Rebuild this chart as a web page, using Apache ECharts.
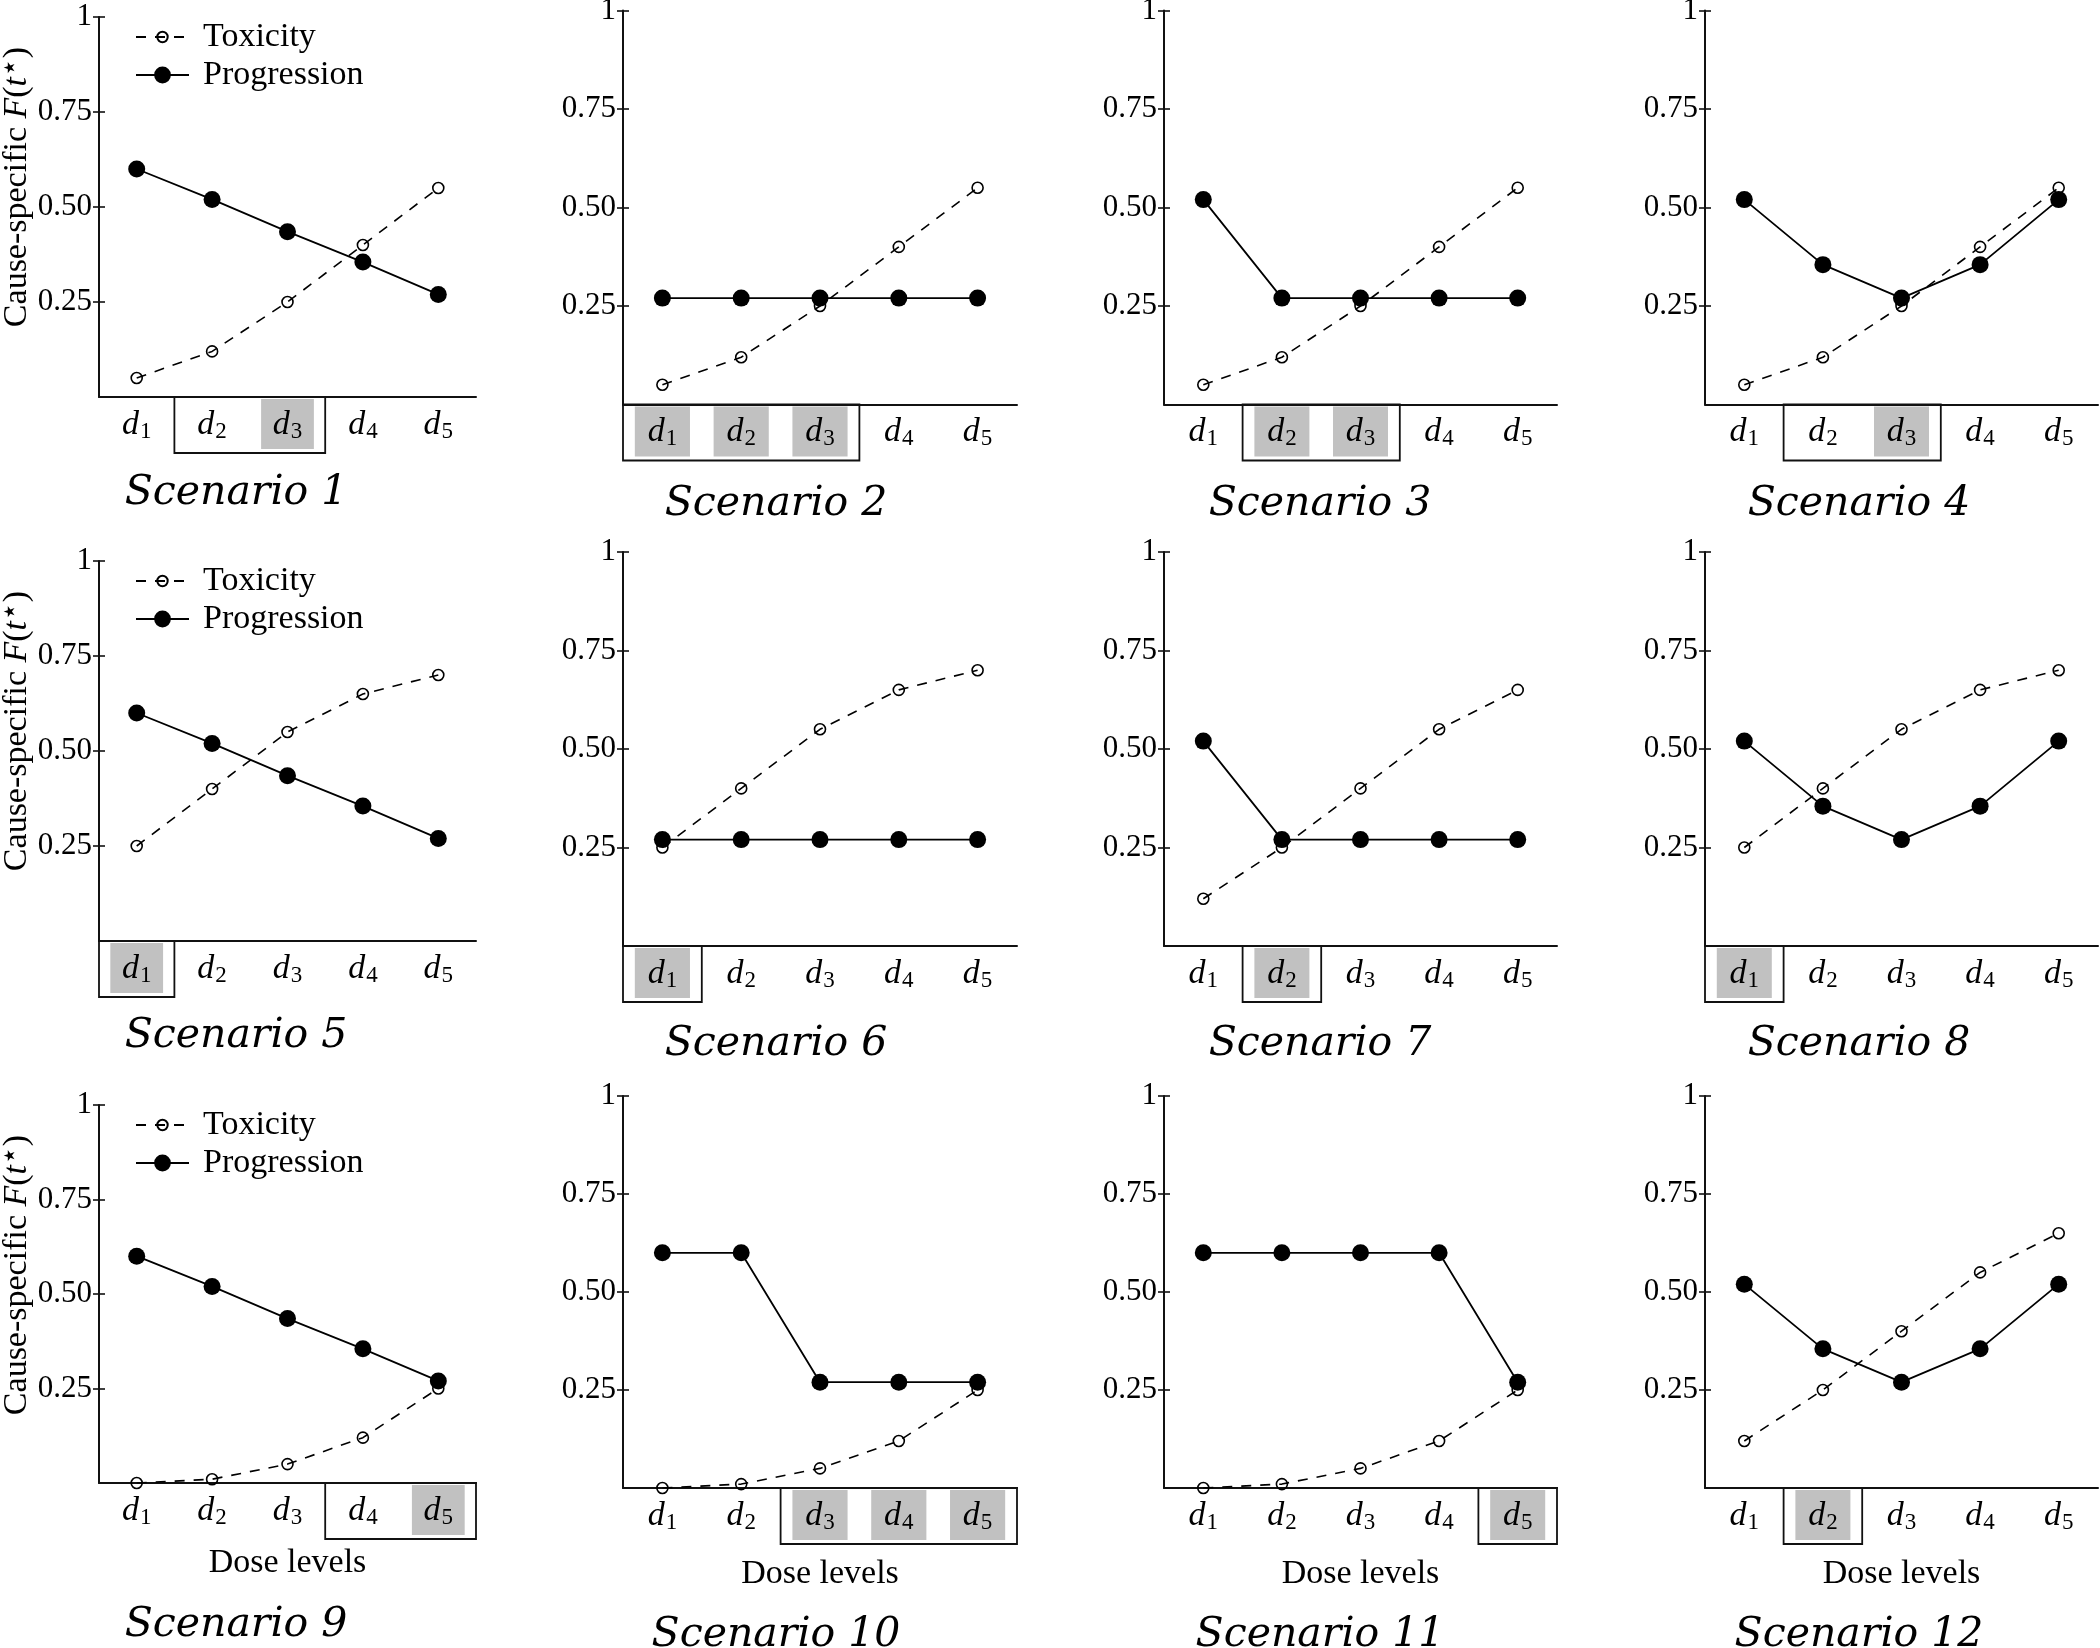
<!DOCTYPE html>
<html>
<head>
<meta charset="utf-8">
<script src="https://cdn.jsdelivr.net/npm/echarts@6/dist/echarts.min.js"></script>
<style>
html,body{margin:0;padding:0;background:#ffffff;}
#c{width:2100px;height:1648px;}
</style>
</head>
<body>
<div id="c"></div>
<script>
// ---------------- data ----------------
const doseLevels = ['d1', 'd2', 'd3', 'd4', 'd5'];
const doseSubscripts = ['1', '2', '3', '4', '5'];
const yTickValues = [0.25, 0.5, 0.75, 1];
const legendNames = ['Toxicity', 'Progression'];
const xAxisTitle = 'Dose levels';
const scenarioLabels = ['Scenario 1', 'Scenario 2', 'Scenario 3', 'Scenario 4',
  'Scenario 5', 'Scenario 6', 'Scenario 7', 'Scenario 8',
  'Scenario 9', 'Scenario 10', 'Scenario 11', 'Scenario 12'];

const tox1 = [0.05, 0.12, 0.25, 0.40, 0.55];
const tox2 = [0.05, 0.12, 0.25, 0.40, 0.55];
const tox3 = [0.05, 0.12, 0.25, 0.40, 0.55];
const tox4 = [0.05, 0.12, 0.25, 0.40, 0.55];
const tox5 = [0.25, 0.40, 0.55, 0.65, 0.70];
const tox6 = [0.25, 0.40, 0.55, 0.65, 0.70];
const tox7 = [0.12, 0.25, 0.40, 0.55, 0.65];
const tox8 = [0.25, 0.40, 0.55, 0.65, 0.70];
const tox9 = [0.00, 0.01, 0.05, 0.12, 0.25];
const tox10 = [0.00, 0.01, 0.05, 0.12, 0.25];
const tox11 = [0.00, 0.01, 0.05, 0.12, 0.25];
const tox12 = [0.12, 0.25, 0.40, 0.55, 0.65];

const prog1 = [0.60, 0.52, 0.435, 0.355, 0.27];
const prog2 = [0.27, 0.27, 0.27, 0.27, 0.27];
const prog3 = [0.52, 0.27, 0.27, 0.27, 0.27];
const prog4 = [0.52, 0.355, 0.27, 0.355, 0.52];
const prog5 = [0.60, 0.52, 0.435, 0.355, 0.27];
const prog6 = [0.27, 0.27, 0.27, 0.27, 0.27];
const prog7 = [0.52, 0.27, 0.27, 0.27, 0.27];
const prog8 = [0.52, 0.355, 0.27, 0.355, 0.52];
const prog9 = [0.60, 0.52, 0.435, 0.355, 0.27];
const prog10 = [0.60, 0.60, 0.27, 0.27, 0.27];
const prog11 = [0.60, 0.60, 0.60, 0.60, 0.27];
const prog12 = [0.52, 0.355, 0.27, 0.355, 0.52];

// framed dose range (first index, last index) and shaded doses per scenario
const boxFrom = [1, 0, 1, 1, 0, 0, 1, 0, 3, 2, 4, 1];
const boxTo   = [2, 2, 2, 2, 0, 0, 1, 0, 4, 4, 4, 1];
const shaded  = [[2], [0, 1, 2], [1, 2], [2], [0], [0], [1], [0], [4], [2, 3, 4], [4], [1]];

const toxicity = [tox1, tox2, tox3, tox4, tox5, tox6, tox7, tox8, tox9, tox10, tox11, tox12];
const progression = [prog1, prog2, prog3, prog4, prog5, prog6, prog7, prog8, prog9, prog10, prog11, prog12];

// ---------------- layout ----------------
const colLeft = [99, 623, 1164, 1705];
const colWidth = [377, 394, 393, 393];
const firstColTop = [17, 561, 1105];
const firstColHeight = [380, 380, 378];
const otherColTop = [10.5, 552, 1096];
const otherColHeight = [394, 394, 392];
const labelX = [236, 776, 1320, 1859];
const firstColLabelY = [493, 1036, 1625];
const otherColLabelY = [504, 1044, 1635];

const FONT = '"Liberation Serif", "Times New Roman", serif';
const INK = '#111111';
const BOX_H = 56;
const GRAY_H = 50;

const grids = [], xAxes = [], yAxes = [], series = [], legends = [], graphics = [];

for (let k = 0; k < 12; k++) {
  const row = Math.floor(k / 4), col = k % 4;
  const top = col === 0 ? firstColTop[row] : otherColTop[row];
  const height = col === 0 ? firstColHeight[row] : otherColHeight[row];
  grids.push({left: colLeft[col], top: top, width: colWidth[col], height: height,
    containLabel: false, outerBoundsMode: 'none'});

  xAxes.push({
    type: 'category', gridIndex: k, data: doseLevels, position: 'bottom', boundaryGap: true, z: 1,
    axisLine: {onZero: false, lineStyle: {color: INK, width: 2}},
    axisTick: {alignWithLabel: true, length: 6, lineStyle: {color: INK, width: 1.6}},
    splitLine: {show: false},
    axisLabel: {
      margin: 10,
      formatter: function (v, i) { return '{d|d}{s|' + doseSubscripts[i] + '}'; },
      rich: {
        d: {fontFamily: FONT, fontStyle: 'italic', fontSize: 34, color: '#000'},
        s: {fontFamily: FONT, fontSize: 23, color: '#000', padding: [13, 0, 0, 1]}
      }
    },
    name: row === 2 ? xAxisTitle : '',
    nameLocation: 'middle',
    nameGap: col === 0 ? 63 : 69,
    nameTextStyle: {fontFamily: FONT, fontSize: 34, color: '#000'}
  });
  xAxes.push({
    type: 'category', gridIndex: k, data: doseLevels, position: 'bottom', boundaryGap: true, z: 1,
    axisLine: {show: false, onZero: false},
    axisTick: {inside: true, alignWithLabel: true, length: 6, lineStyle: {color: INK, width: 1.6}},
    axisLabel: {show: false}, splitLine: {show: false}
  });
  yAxes.push({
    type: 'value', gridIndex: k, min: 0, max: 1, interval: 0.25, position: 'left', z: 1,
    axisLine: {show: true, onZero: false, lineStyle: {color: INK, width: 2}},
    axisTick: {show: true, length: 6, customValues: yTickValues, lineStyle: {color: INK, width: 1.6}},
    axisLabel: {customValues: yTickValues, margin: 7, fontFamily: FONT, fontSize: 31, color: '#000',
      formatter: function (v) { return v === 1 ? '1' : v.toFixed(2); }},
    splitLine: {show: false}
  });
  yAxes.push({
    type: 'value', gridIndex: k, min: 0, max: 1, interval: 0.25, position: 'left', z: 1,
    axisLine: {show: false, onZero: false},
    axisTick: {show: true, inside: true, length: 6, customValues: yTickValues, lineStyle: {color: INK, width: 1.6}},
    axisLabel: {show: false}, splitLine: {show: false}
  });

  // highlight cells below the x axis
  const hl = [];
  shaded[k].forEach(function (d) { hl.push([d, d, 1, 0]); });
  hl.push([boxFrom[k], boxTo[k], 0, 0]);
  series.push({
    type: 'custom', xAxisIndex: 2 * k, yAxisIndex: 2 * k, z: 0, clip: false, silent: true,
    encode: {x: 0, y: 3},
    data: hl,
    renderItem: function (params, api) {
      const kind = api.value(2);
      const a = api.coord([api.value(0), 0]);
      const b = api.coord([api.value(1), 0]);
      const band = api.size([1, 0])[0];
      if (kind === 0) {
        return {type: 'rect', shape: {x: a[0] - band / 2, y: a[1], width: b[0] - a[0] + band, height: BOX_H},
          style: {fill: 'none', stroke: INK, lineWidth: 1.8}};
      }
      const w = band * 0.7;
      return {type: 'rect', shape: {x: a[0] - w / 2, y: a[1] + 2, width: w, height: GRAY_H},
        style: {fill: '#c1c1c1'}};
    }
  });

  series.push({
    name: legendNames[0], type: 'line', xAxisIndex: 2 * k, yAxisIndex: 2 * k,
    data: toxicity[k], symbol: 'circle', symbolSize: 11, z: 3,
    lineStyle: {type: [10, 9], width: 1.6, color: '#000'},
    itemStyle: {color: 'rgba(255,255,255,0)', borderColor: '#000', borderWidth: 1.6}
  });
  series.push({
    name: legendNames[1], type: 'line', xAxisIndex: 2 * k, yAxisIndex: 2 * k,
    data: progression[k], symbol: 'circle', symbolSize: 17, z: 4,
    lineStyle: {type: 'solid', width: 1.8, color: '#000'},
    itemStyle: {color: '#000'}
  });

  if (col === 0) {
    legends.push({
      data: [legendNames[0]], left: 135, top: top + 20 - 17, orient: 'vertical', padding: 0,
      itemWidth: 53, itemHeight: 13, selectedMode: false,
      textStyle: {fontFamily: FONT, fontSize: 34, lineHeight: 34, color: '#000', padding: [0, 0, 0, 9]}
    });
    legends.push({
      data: [legendNames[1]], left: 135, top: top + 58 - 17, orient: 'vertical', padding: 0,
      itemWidth: 53, itemHeight: 21, selectedMode: false,
      textStyle: {fontFamily: FONT, fontSize: 34, lineHeight: 34, color: '#000', padding: [0, 0, 0, 9]}
    });
    graphics.push({
      type: 'text', x: 17, y: top + 170, rotation: Math.PI / 2,
      style: {
        text: 'Cause-specific {it|F}({it|t}{sup|⋆})',
        rich: {
          it: {fontFamily: FONT, fontStyle: 'italic', fontSize: 34, fill: '#000'},
          sup: {fontFamily: '"DejaVu Sans", sans-serif', fontSize: 30, fill: '#000', padding: [0, 0, 12, 0]}
        },
        fontFamily: FONT, fontSize: 34, fill: '#000', align: 'center', verticalAlign: 'middle'
      }
    });
  }

  graphics.push({
    type: 'text', x: labelX[col], y: col === 0 ? firstColLabelY[row] : otherColLabelY[row],
    style: {text: scenarioLabels[k], fontFamily: '"DejaVu Serif", serif', fontStyle: 'italic',
      fontSize: 41, fill: '#000', align: 'center', verticalAlign: 'middle'}
  });
}

const chart = echarts.init(document.getElementById('c'), null, {renderer: 'canvas'});
chart.setOption({
  backgroundColor: '#ffffff',
  animation: false,
  grid: grids,
  xAxis: xAxes,
  yAxis: yAxes,
  legend: legends,
  series: series,
  graphic: graphics
});
</script>
</body>
</html>
